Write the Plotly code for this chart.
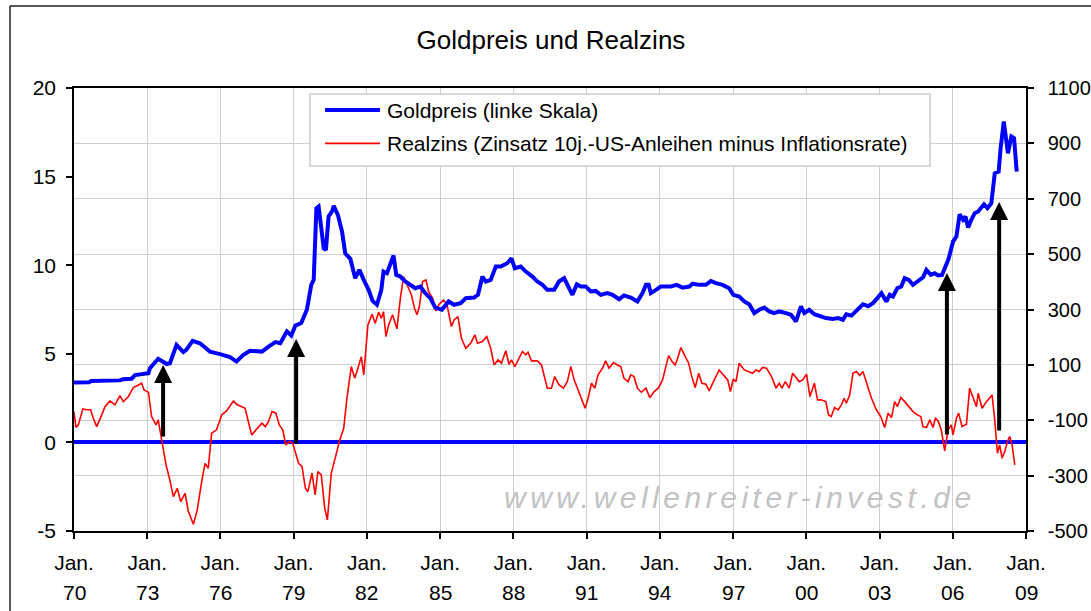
import plotly.graph_objects as go

# Goldpreis (USD/oz, right scale), decimal years
gold_t = [1970.00, 1970.62, 1970.70, 1971.88, 1972.00, 1972.36, 1972.50, 1972.80, 1973.05, 1973.11,
          1973.45, 1973.80, 1973.93, 1974.20, 1974.48, 1974.60, 1974.86, 1975.16, 1975.57, 1975.98,
          1976.39, 1976.66, 1976.94, 1977.21, 1977.70,
          1977.97, 1978.25, 1978.45, 1978.72, 1978.90, 1979.07, 1979.31, 1979.54, 1979.72, 1979.82,
          1979.93, 1980.02, 1980.13, 1980.23, 1980.32, 1980.43, 1980.57, 1980.64, 1980.81, 1980.98,
          1981.11, 1981.32, 1981.52, 1981.69, 1981.87, 1982.07, 1982.23, 1982.41, 1982.59, 1982.68,
          1982.82, 1982.96, 1983.09, 1983.20, 1983.37, 1983.57, 1983.78, 1983.98, 1984.19, 1984.39,
          1984.60, 1984.80, 1985.07, 1985.35, 1985.57,
          1985.84, 1986.05, 1986.39, 1986.55, 1986.73, 1986.87, 1987.07, 1987.28, 1987.48, 1987.75,
          1987.92, 1988.06, 1988.30, 1988.51, 1988.78, 1988.98, 1989.19, 1989.39, 1989.67, 1989.87,
          1990.08, 1990.28, 1990.42, 1990.60, 1990.76, 1990.96, 1991.17, 1991.37, 1991.58, 1991.85,
          1992.06, 1992.33, 1992.53, 1992.81, 1993.08, 1993.29, 1993.43,
          1993.54, 1993.63, 1993.84, 1994.04, 1994.25, 1994.45, 1994.69, 1994.93, 1995.21, 1995.34,
          1995.61, 1995.89, 1996.09, 1996.30, 1996.57, 1996.84, 1997.01, 1997.25, 1997.46, 1997.66,
          1997.87, 1998.07, 1998.28, 1998.48, 1998.69, 1998.89, 1999.17, 1999.37, 1999.58, 1999.78,
          1999.92, 2000.12, 2000.33, 2000.53, 2000.80, 2001.08, 2001.30,
          2001.50, 2001.64, 2001.85, 2002.05, 2002.32, 2002.53, 2002.73, 2002.91, 2003.08, 2003.28,
          2003.42, 2003.55, 2003.73, 2003.89, 2004.03, 2004.20, 2004.37, 2004.58, 2004.78, 2004.92,
          2005.10, 2005.26, 2005.40, 2005.56, 2005.67, 2005.83, 2006.01, 2006.15, 2006.28, 2006.42,
          2006.52, 2006.63, 2006.76, 2006.90, 2007.04, 2007.14, 2007.28, 2007.42, 2007.58, 2007.72,
          2007.88, 2007.96, 2008.09, 2008.26, 2008.40, 2008.51, 2008.62]
gold_usd = [36, 37, 42, 44, 48, 50, 63, 68, 70, 88,
            122, 103, 106, 172, 146, 154, 187, 178, 148, 139,
            128, 112, 136, 151, 148,
            166, 182, 178, 221, 206, 242, 251, 299, 389, 407,
            666, 672, 594, 521, 515, 636, 654, 674, 642, 582,
            503, 483, 413, 443, 407, 371, 331, 317, 371, 437,
            431, 464, 495, 425, 419, 401, 389, 377, 383, 359,
            341, 307, 299, 329, 317,
            323, 341, 343, 353, 419, 401, 407, 455, 455, 467,
            485, 449, 455, 437, 419, 401, 389, 371, 371, 401,
            413, 377, 353, 391, 383, 383, 365, 367, 353, 359,
            353, 337, 351, 343, 329, 359, 389,
            389, 359, 371, 383, 383, 383, 389, 379, 383, 393,
            389, 389, 403, 395, 389, 377, 353, 347, 329, 319,
            287, 299, 307, 293, 287, 293, 287, 281, 257, 311,
            287, 299, 283, 278, 269, 266, 269,
            263, 283, 278, 295, 319, 312, 323, 341, 359, 329,
            353, 347, 377, 383, 413, 407, 389, 403, 416, 443,
            425, 431, 423, 425, 449, 483, 545, 564, 644, 624,
            636, 596, 624, 648, 654, 666, 680, 666, 684, 792,
            798, 882, 979, 864, 925, 919, 798]

# Realzins (%, left scale)
real_t = [1970.00, 1970.08, 1970.18, 1970.36, 1970.52, 1970.68, 1970.79, 1970.93, 1971.09, 1971.27,
          1971.47, 1971.68, 1971.88, 1972.02, 1972.23, 1972.43, 1972.64, 1972.77, 1972.87, 1973.05,
          1973.18, 1973.36, 1973.45, 1973.52, 1973.63, 1973.77, 1973.91, 1974.07, 1974.23, 1974.37,
          1974.55, 1974.68, 1974.89, 1975.05, 1975.23, 1975.37, 1975.50, 1975.64, 1975.84, 1976.05,
          1976.25, 1976.53, 1976.66, 1976.87, 1977.01, 1977.14, 1977.28, 1977.42, 1977.70,
          1977.84, 1977.97, 1978.11, 1978.27, 1978.41, 1978.55, 1978.68, 1978.82, 1978.96, 1979.07,
          1979.20, 1979.34, 1979.48, 1979.58, 1979.75, 1979.88, 1979.99, 1980.13, 1980.27, 1980.38,
          1980.54, 1980.70, 1980.87, 1981.05, 1981.18, 1981.36, 1981.50, 1981.63, 1981.77, 1981.87,
          1982.04, 1982.21, 1982.34, 1982.48, 1982.59, 1982.68, 1982.78, 1982.89, 1983.05, 1983.23,
          1983.37, 1983.50, 1983.64, 1983.82, 1983.95, 1984.05, 1984.15, 1984.28, 1984.42, 1984.53,
          1984.69, 1984.83, 1984.96, 1985.14, 1985.28, 1985.46, 1985.57,
          1985.73, 1985.87, 1986.05, 1986.25, 1986.42, 1986.53, 1986.73, 1986.91, 1987.07, 1987.21,
          1987.37, 1987.51, 1987.69, 1987.82, 1987.92, 1988.06, 1988.23, 1988.37, 1988.51, 1988.60,
          1988.74, 1988.98, 1989.15, 1989.26, 1989.39, 1989.56, 1989.69, 1989.87, 1990.05, 1990.21,
          1990.35, 1990.49, 1990.62, 1990.79, 1990.94, 1991.06, 1991.20, 1991.33, 1991.47, 1991.65,
          1991.78, 1991.92, 1992.10, 1992.26, 1992.40, 1992.53, 1992.70, 1992.81, 1992.94, 1993.08,
          1993.24, 1993.43,
          1993.59, 1993.77, 1993.95, 1994.11, 1994.22, 1994.36, 1994.50, 1994.63, 1994.73, 1994.86,
          1995.04, 1995.18, 1995.31, 1995.45, 1995.59, 1995.72, 1995.89, 1996.02, 1996.23, 1996.43,
          1996.60, 1996.78, 1996.89, 1997.01, 1997.12, 1997.25, 1997.46, 1997.66, 1997.80, 1997.94,
          1998.07, 1998.21, 1998.37, 1998.59, 1998.76, 1998.89, 1999.00, 1999.14, 1999.30, 1999.44,
          1999.58, 1999.71, 1999.85, 2000.01, 2000.15, 2000.33, 2000.46, 2000.60, 2000.80, 2000.91,
          2001.02, 2001.16, 2001.30,
          2001.44, 2001.55, 2001.64, 2001.78, 2001.91, 2002.05, 2002.19, 2002.32, 2002.46, 2002.67,
          2002.87, 2003.05, 2003.21, 2003.35, 2003.49, 2003.62, 2003.73, 2003.87, 2004.03, 2004.20,
          2004.37, 2004.55, 2004.69, 2004.78, 2004.92, 2005.06, 2005.19, 2005.29, 2005.40, 2005.53,
          2005.67, 2005.81, 2005.94, 2006.01, 2006.15, 2006.24, 2006.38, 2006.56, 2006.69, 2006.83,
          2006.97, 2007.04, 2007.20, 2007.38, 2007.51, 2007.61, 2007.72, 2007.83, 2007.92, 2008.02,
          2008.13, 2008.24, 2008.33, 2008.43, 2008.54]
real_pct = [1.74, 0.84, 0.99, 1.89, 1.84, 1.84, 1.36, 0.89, 1.40, 2.02,
            2.34, 2.12, 2.64, 2.30, 2.59, 3.09, 3.24, 3.34, 2.96, 2.83,
            1.46, 0.99, 1.27, 0.70, -0.05, -1.27, -2.02, -3.06, -2.59, -3.34,
            -2.87, -3.87, -4.62, -3.81, -2.21, -1.18, -1.46, 0.52, 0.71, 1.55,
            1.78, 2.34, 2.15, 2.02, 1.93, 1.18, 0.42, 0.65, 1.08,
            0.89, 1.18, 1.74, 1.65, 0.99, 0.71, -0.14, 0.05, -0.05, -0.52,
            -1.18, -1.36, -2.59, -2.78, -1.74, -2.96, -1.65, -1.83, -3.71, -4.37,
            -1.74, -0.89, 0.05, 0.80, 2.49, 4.28, 3.62, 4.19, 4.84, 3.81,
            6.63, 7.23, 6.72, 7.35, 7.00, 7.38, 5.97, 6.63, 7.20, 6.41,
            8.14, 9.36, 8.89, 8.33, 7.57, 7.20, 7.67, 9.08, 9.17, 8.51,
            8.14, 7.42, 7.80, 8.04, 7.76, 6.54, 6.91,
            7.10, 5.88, 5.31, 5.60, 6.07, 5.60, 5.69, 5.97, 5.31, 4.37,
            4.66, 4.47, 5.17, 4.41, 4.66, 4.28, 4.75, 5.13, 4.94, 5.09,
            4.60, 4.60, 4.37, 3.81, 3.06, 3.06, 3.71, 3.24, 3.06, 3.43,
            4.28, 3.53, 3.06, 2.49, 1.93, 2.49, 3.34, 3.06, 3.81, 4.19,
            4.60, 4.19, 4.51, 4.37, 4.28, 3.62, 3.43, 3.81, 3.71, 3.06,
            2.83, 3.06,
            2.53, 2.87, 3.09, 3.53, 4.19, 4.90, 4.56, 4.37, 4.75, 5.35,
            4.84, 4.47, 3.71, 3.09, 3.90, 3.34, 3.28, 2.91, 3.53, 4.09,
            3.81, 3.53, 2.87, 3.58, 3.43, 4.47, 4.09, 4.00, 3.90, 4.09,
            4.00, 4.23, 4.19, 3.67, 3.06, 3.34, 3.06, 3.43, 3.06, 3.90,
            3.62, 3.43, 3.53, 3.85, 2.59, 3.34, 2.40, 2.40, 2.30, 1.55,
            1.46, 1.97, 1.84,
            2.12, 2.49, 2.21, 2.68, 3.90, 4.00, 3.77, 4.00, 3.43, 2.49,
            1.84, 1.46, 0.84, 1.65, 1.40, 2.30, 2.02, 2.53, 2.30, 2.02,
            1.74, 1.55, 1.46, 0.89, 0.84, 1.27, 0.84, 1.36, 1.21, 0.70,
            -0.48, 0.71, 0.99, 0.42, 1.36, 1.65, 0.89, 1.03, 3.06, 2.53,
            2.02, 2.77, 1.93, 2.30, 2.49, 2.68, 1.27, -0.61, -0.14, -0.89,
            -0.52, 0.05, 0.33, -0.14, -1.27]

tick_years = list(range(1970, 2010, 3))
tick_year_labels = ['70', '73', '76', '79', '82', '85', '88', '91', '94', '97', '00', '03', '06', '09']
left_ticks = [-5, 0, 5, 10, 15, 20]
right_ticks = [-500, -300, -100, 100, 300, 500, 700, 900, 1100]

# arrows (year, tip, base) on left scale
arrow_year = [1973.65, 1979.10, 2005.76, 2007.90]
arrow_tip = [4.37, 5.84, 9.56, 13.57]
arrow_base = [0.25, -0.15, 0.36, 0.59]

gold_name = 'Goldpreis (linke Skala)'
real_name = 'Realzins (Zinsatz 10j.-US-Anleihen minus Inflationsrate)'

FONT = 'Liberation Sans, Arial, sans-serif'

fig = go.Figure()
fig.add_trace(go.Scatter(x=gold_t, y=gold_usd, yaxis='y2', mode='lines', name=gold_name,
                         line=dict(color='#0000ff', width=4), showlegend=False))
fig.add_trace(go.Scatter(x=real_t, y=real_pct, mode='lines', name=real_name,
                         line=dict(color='#ff0000', width=1.6), showlegend=False))

annotations = []
for yr, lbl in zip(tick_years, tick_year_labels):
    annotations.append(dict(x=yr, xref='x', y=-0.1377, yref='paper', text=lbl, showarrow=False,
                            xanchor='center', yanchor='middle', font=dict(size=21, color='black')))
for xa, tip, base in zip(arrow_year, arrow_tip, arrow_base):
    annotations.append(dict(x=xa, y=tip, xref='x', yref='y', ax=xa, ay=base, axref='x', ayref='y',
                            text='', showarrow=True, arrowhead=2, arrowsize=0.9, arrowwidth=4,
                            arrowcolor='black', standoff=0))
# legend text
annotations.append(dict(x=0.3267, y=0.9503, xref='paper', yref='paper', text=gold_name, showarrow=False,
                        xanchor='left', yanchor='middle', font=dict(size=21, color='black')))
annotations.append(dict(x=0.3267, y=0.8751, xref='paper', yref='paper', text=real_name, showarrow=False,
                        xanchor='left', yanchor='middle', font=dict(size=21, color='black')))
# watermark
annotations.append(dict(x=0.6996, y=0.0745, xref='paper', yref='paper',
                        text='<i><span style="letter-spacing:4.5px">www.wellenreiter-invest.de</span></i>',
                        showarrow=False, xanchor='center', yanchor='middle',
                        font=dict(size=30, color='#c2c2c2')))

shapes = [
    # legend box and samples
    dict(type='rect', xref='paper', yref='paper', x0=0.2479, x1=0.8992, y0=0.8239, y1=0.9865,
         fillcolor='white', line=dict(color='#cccccc', width=1.5), layer='above'),
    dict(type='line', xref='paper', yref='paper', x0=0.2637, x1=0.3214, y0=0.9503, y1=0.9503,
         line=dict(color='#0000ff', width=4), layer='above'),
    dict(type='line', xref='paper', yref='paper', x0=0.2637, x1=0.3214, y0=0.8751, y1=0.8751,
         line=dict(color='#ff0000', width=1.6), layer='above'),
    # outer frame
    dict(type='line', xref='paper', yref='paper', x0=-0.0672, x1=-0.0672, y0=-0.3, y1=1.1851,
         line=dict(color='#222222', width=1.5)),
    dict(type='line', xref='paper', yref='paper', x0=-0.0672, x1=1.2, y0=1.1851, y1=1.1851,
         line=dict(color='#222222', width=1.5)),
]

fig.update_layout(
    width=1091, height=611,
    margin=dict(l=74, r=65, t=88, b=80, autoexpand=False),
    paper_bgcolor='white', plot_bgcolor='white',
    font=dict(family=FONT, size=21, color='black'),
    title=dict(text='Goldpreis und Realzins', x=0.505, xanchor='center', y=0.9345, yanchor='middle',
               font=dict(size=26, color='black')),
    xaxis=dict(range=[1970, 2009], tickmode='array', tickvals=tick_years,
               ticktext=['Jan.'] * len(tick_years), ticks='outside', ticklen=6, tickcolor='black',
               tickwidth=1.5, showline=True, linecolor='black', linewidth=1.5, mirror=True,
               showgrid=True, gridcolor='#cfcfcf', gridwidth=1, zeroline=False, automargin=False,
               ticklabelstandoff=6, tickfont=dict(size=21)),
    yaxis=dict(range=[-5, 20], tickmode='array', tickvals=left_ticks,
               ticktext=[str(v) for v in left_ticks], ticks='outside', ticklen=6,
               tickcolor='black', tickwidth=1.5, showline=True, linecolor='black', linewidth=1.5,
               showgrid=False, zeroline=True, zerolinecolor='#0000ff', zerolinewidth=4,
               automargin=False, ticklabelstandoff=6, tickfont=dict(size=21)),
    yaxis2=dict(range=[-500, 1100], tickmode='array', tickvals=right_ticks,
                ticktext=[str(v) for v in right_ticks], overlaying='y', side='right',
                ticks='outside', ticklen=6, tickcolor='black', tickwidth=1.5, showline=True,
                linecolor='black', linewidth=1.5, showgrid=True, gridcolor='#cfcfcf', gridwidth=1,
                zeroline=False, automargin=False, ticklabelstandoff=10, tickfont=dict(size=20)),
    annotations=annotations,
    shapes=shapes,
    showlegend=False,
)

fig.write_html('out.html', config={'displayModeBar': False},
               post_script="document.body.style.margin='0';document.body.style.overflow='hidden';")
